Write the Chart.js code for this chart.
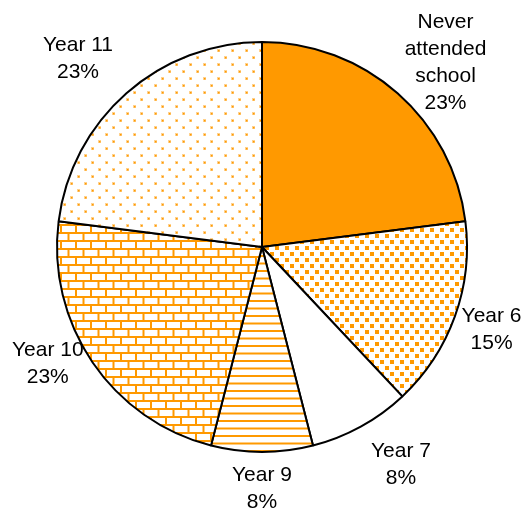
<!DOCTYPE html>
<html>
<head>
<meta charset="utf-8">
<script src="https://cdn.jsdelivr.net/npm/chart.js@4/dist/chart.umd.min.js"></script>
<style>
  html, body { margin: 0; padding: 0; background: #fff; }
  #wrap { width: 525px; height: 510px; }
</style>
</head>
<body>
<div id="wrap"><canvas id="schoolChart" width="525" height="510"></canvas></div>
<script>
// Highest year of school completed
const categories = [['Never', 'attended', 'school'], ['Year 6'], ['Year 7'], ['Year 9'], ['Year 10'], ['Year 11']];
const percents = [23, 15, 8, 8, 23, 23];

const ORANGE = '#ff9900';

const canvas = document.getElementById('schoolChart');
const ctx = canvas.getContext('2d');

// small tiles used as fills for the slices
function makePattern(w, h, draw) {
    const c = document.createElement('canvas');
    c.width = w;
    c.height = h;
    const g = c.getContext('2d');
    g.fillStyle = '#fff';
    g.fillRect(0, 0, w, h);
    g.fillStyle = ORANGE;
    draw(g);
    return ctx.createPattern(c, 'repeat');
}

const denseDots = makePattern(10, 12, g => {
    g.fillRect(0, 0, 4, 4);
    g.fillRect(5, 6, 4, 4);
});
const hLines = makePattern(4, 15, g => {
    g.fillRect(0, 0, 4, 2);
    g.fillRect(0, 7.5, 4, 2);
});
const bricks = makePattern(15, 16, g => {
    g.fillRect(0, 0, 15, 2);
    g.fillRect(0, 8, 15, 2);
    g.fillRect(0, 0, 2, 8);
    g.fillRect(7.5, 8, 2, 8);
});
const sparseDots = makePattern(14, 14, g => {
    g.globalAlpha = 0.45;
    g.fillRect(0, 0, 3, 3);
    g.fillRect(7, 7, 3, 3);
    g.globalAlpha = 1;
    g.fillRect(1, 1, 1.5, 1.5);
    g.fillRect(8, 8, 1.5, 1.5);
});

// label placement around the pie: angle nudge (deg) and distance from centre
const labelNudge = [3.5, 0, -3.8, 0, 5.6, -3.0];
const labelDist = [260, 244, 258, 242, 244, 263];

const outsideLabels = {
    id: 'outsideLabels',
    afterDraw(chart) {
        const c = chart.ctx;
        const meta = chart.getDatasetMeta(0);
        const lineH = 27;
        c.save();
        c.font = '21px "Liberation Sans", Arial, sans-serif';
        c.fillStyle = '#000';
        c.textAlign = 'center';
        c.textBaseline = 'middle';
        meta.data.forEach((arc, i) => {
            const p = arc.getProps(['x', 'y', 'startAngle', 'endAngle'], true);
            const a = (p.startAngle + p.endAngle) / 2 + labelNudge[i] * Math.PI / 180;
            const cx = p.x + Math.cos(a) * labelDist[i];
            const cy = p.y + Math.sin(a) * labelDist[i];
            const lines = categories[i].concat([percents[i] + '%']);
            const top = cy - (lines.length - 1) * lineH / 2;
            lines.forEach((t, k) => c.fillText(t, cx, top + k * lineH));
        });
        c.restore();
    }
};

new Chart(ctx, {
    type: 'pie',
    data: {
        labels: categories,
        datasets: [{
            data: percents,
            backgroundColor: [ORANGE, denseDots, '#ffffff', hLines, bricks, sparseDots],
            borderColor: '#000',
            borderWidth: 2
        }]
    },
    options: {
        responsive: false,
        animation: false,
        radius: 205,
        layout: { padding: { left: 57, right: 58, top: 42, bottom: 58 } },
        plugins: {
            legend: { display: false },
            tooltip: { enabled: false }
        }
    },
    plugins: [outsideLabels]
});
</script>
</body>
</html>
